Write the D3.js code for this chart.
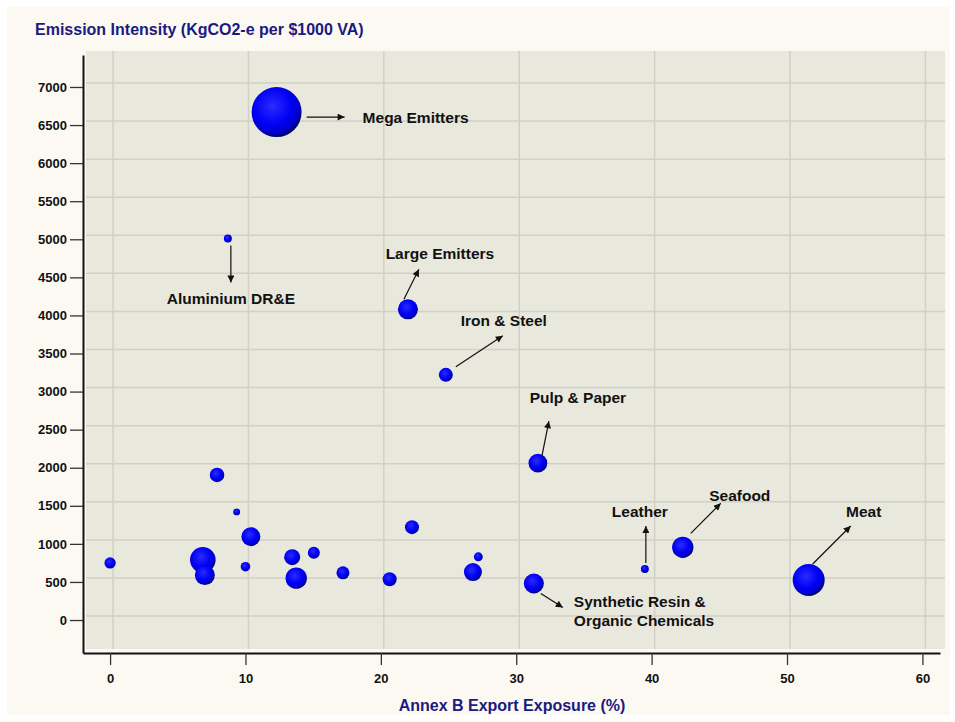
<!DOCTYPE html>
<html>
<head>
<meta charset="utf-8">
<script src="https://cdn.jsdelivr.net/npm/d3@7"></script>
<style>
  body { margin: 0; background: #fff; }
  svg { display: block; font-family: "Liberation Sans", Arial, sans-serif; }
  .tick-label { font-size: 13px; font-weight: bold; fill: #111; }
  .note { font-size: 15.5px; font-weight: bold; fill: #111; }
  .axis-title { font-size: 16px; font-weight: bold; fill: #1a1a80; }
</style>
</head>
<body>
<svg width="955" height="722"></svg>
<script>
// sectors: export exposure (%), emission intensity, bubble size
const exposure = [12.3, 8.7, 22.0, 24.8, 31.6, 39.5, 42.3, 51.6, 31.3,
    7.9, 9.35, 10.4, 0, 6.85, 7.0, 10.0, 13.45, 13.75, 15.05, 17.2, 20.65, 22.3, 26.8, 27.2];
const intensity = [6670, 5010, 4080, 3220, 2060, 670, 955, 525, 480,
    1905, 1420, 1095, 750, 790, 590, 700, 825, 550, 885, 620, 535, 1220, 630, 830];
const bubbleSize = [625, 16, 100, 49, 88, 16, 114, 256, 100,
    53, 12, 90, 32, 164, 100, 23, 64, 114, 36, 42, 49, 49, 81, 20];
const names = ['Mega Emitters', 'Aluminium DR&E', 'Large Emitters', 'Iron & Steel', 'Pulp & Paper',
    'Leather', 'Seafood', 'Meat', 'Synthetic Resin &|Organic Chemicals'];

const xTicks = [0, 10, 20, 30, 40, 50, 60];
const yTicks = d3.range(0, 7001, 500);

const points = exposure.map((x, i) => ({
    x: x,
    y: intensity[i],
    size: bubbleSize[i],
    name: names[i] || ''
}));

// annotation layout, pixel offsets from bubble centre: arrow start, arrow end, label
const notes = [
    { a1: [30, 5], a2: [68, 5], t: [86, 5], anchor: 'start' },
    { a1: [3, 7], a2: [3, 44], t: [3, 60], anchor: 'middle' },
    { a1: [-4, -10], a2: [11, -40], t: [32, -56], anchor: 'middle' },
    { a1: [10, -8], a2: [57, -39], t: [58, -54], anchor: 'middle' },
    { a1: [4, -7], a2: [11, -42], t: [40, -66], anchor: 'middle' },
    { a1: [1, -6], a2: [1, -43], t: [-5, -58], anchor: 'middle' },
    { a1: [8, -14], a2: [38, -44], t: [57, -52], anchor: 'middle' },
    { a1: [4, -16], a2: [42, -54], t: [55, -69], anchor: 'middle' },
    { a1: [7, 10], a2: [29, 24], t: [40, 18], anchor: 'start' }
];

const svg = d3.select('svg');

// panel
svg.append('rect')
    .attr('x', 7).attr('y', 7)
    .attr('width', 943).attr('height', 708)
    .attr('fill', '#fcf9f2');

const xScale = d3.scaleLinear().domain([-2, 61.3]).range([83, 940]);
const yScale = d3.scaleLinear().domain([-433, 7420]).range([653, 55]);
const rScale = d3.scaleSqrt().domain([0, 625]).range([0, 25]);

// back wall, shifted for the 3d look
const depth = { dx: 3, dy: -4 };
const wall = { x0: 86, x1: 945, y0: 51, y1: 649 };

svg.append('rect')
    .attr('x', wall.x0).attr('y', wall.y0)
    .attr('width', wall.x1 - wall.x0).attr('height', wall.y1 - wall.y0)
    .attr('fill', '#e9e8dd');

const grid = svg.append('g').attr('stroke', '#d2d0c4').attr('stroke-width', 1.5);
grid.selectAll('.gy')
    .data(yTicks)
    .enter().append('line')
    .attr('x1', wall.x0).attr('x2', wall.x1)
    .attr('y1', (d) => yScale(d) + depth.dy)
    .attr('y2', (d) => yScale(d) + depth.dy);
grid.selectAll('.gx')
    .data(xTicks)
    .enter().append('line')
    .attr('y1', wall.y0).attr('y2', wall.y1)
    .attr('x1', (d) => xScale(d) + depth.dx)
    .attr('x2', (d) => xScale(d) + depth.dx);

// axes
const yAxis = svg.append('g')
    .attr('transform', 'translate(83,0)')
    .call(d3.axisLeft(yScale).tickValues(yTicks).tickFormat(d3.format('d'))
        .tickSize(13).tickPadding(3).tickSizeOuter(0));
const xAxis = svg.append('g')
    .attr('transform', 'translate(0,653)')
    .call(d3.axisBottom(xScale).tickValues(xTicks).tickFormat(d3.format('d'))
        .tickSize(12).tickPadding(9).tickSizeOuter(0));

[xAxis, yAxis].forEach((ax) => {
    ax.select('.domain').attr('stroke', '#111').attr('stroke-width', 2);
    ax.selectAll('.tick line').attr('stroke', '#333').attr('stroke-width', 1.3);
    ax.selectAll('.tick text').attr('class', 'tick-label').attr('font-family', null).attr('font-size', null);
});

// bubble shading
const defs = svg.append('defs');
const grad = defs.append('radialGradient')
    .attr('id', 'ball')
    .attr('cx', '42%').attr('cy', '38%').attr('r', '62%');
grad.append('stop').attr('offset', '0%').attr('stop-color', '#2b2bff');
grad.append('stop').attr('offset', '60%').attr('stop-color', '#0000f6');
grad.append('stop').attr('offset', '85%').attr('stop-color', '#0000d0');
grad.append('stop').attr('offset', '100%').attr('stop-color', '#00006e');

const marker = defs.append('marker')
    .attr('id', 'head')
    .attr('viewBox', '0 0 10 10')
    .attr('refX', 10).attr('refY', 5)
    .attr('markerWidth', 9).attr('markerHeight', 7)
    .attr('markerUnits', 'userSpaceOnUse')
    .attr('orient', 'auto');
marker.append('path').attr('d', 'M0,0 L10,5 L0,10 Z').attr('fill', '#111');

svg.append('g')
    .selectAll('circle')
    .data(points.slice().sort((a, b) => b.size - a.size))
    .enter().append('circle')
    .attr('cx', (d) => xScale(d.x))
    .attr('cy', (d) => yScale(d.y))
    .attr('r', (d) => rScale(d.size))
    .attr('fill', 'url(#ball)');

// annotations
const noteGroup = svg.append('g');
notes.forEach((n, i) => {
    const p = points[i];
    const cx = xScale(p.x);
    const cy = yScale(p.y);
    noteGroup.append('line')
        .attr('x1', cx + n.a1[0]).attr('y1', cy + n.a1[1])
        .attr('x2', cx + n.a2[0]).attr('y2', cy + n.a2[1])
        .attr('stroke', '#111').attr('stroke-width', 1.2)
        .attr('marker-end', 'url(#head)');
    p.name.split('|').forEach((line, k) => {
        noteGroup.append('text')
            .attr('class', 'note')
            .attr('x', cx + n.t[0])
            .attr('y', cy + n.t[1] + k * 19)
            .attr('dy', '0.36em')
            .attr('text-anchor', n.anchor)
            .text(line);
    });
});

// titles
svg.append('text')
    .attr('class', 'axis-title')
    .attr('x', 35).attr('y', 29)
    .attr('dy', '0.36em')
    .text('Emission Intensity (KgCO2-e per $1000 VA)');

svg.append('text')
    .attr('class', 'axis-title')
    .attr('x', 512).attr('y', 705)
    .attr('dy', '0.36em')
    .attr('text-anchor', 'middle')
    .text('Annex B Export Exposure (%)');
</script>
</body>
</html>
